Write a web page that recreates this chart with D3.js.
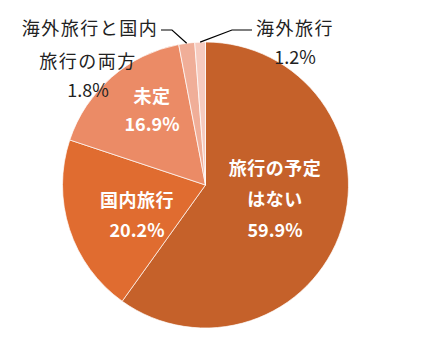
<!DOCTYPE html>
<html>
<head>
<meta charset="utf-8">
<script src="https://cdn.jsdelivr.net/npm/d3@7"></script>
<style>
	body { margin: 0; background: #fff; }
	text { font-family: "Noto Sans CJK JP", sans-serif; }
</style>
</head>
<body>
<svg id="chart" width="444" height="341"></svg>
<script>
var categories = ['旅行の予定はない', '国内旅行', '未定', '海外旅行と国内旅行の両方', '海外旅行'];
var values = [59.9, 20.2, 16.9, 1.8, 1.2];
var colors = ['#c5612a', '#e06c30', '#eb8b66', '#f0ae98', '#f6cbbf'];

var width = 444, height = 341;
var cx = 205.5, cy = 185, radius = 143;

var svg = d3.select('#chart');
var g = svg.append('g').attr('transform', 'translate(' + cx + ',' + cy + ')');

var pie = d3.pie().sort(null).value(function(d) { return d; });
var arc = d3.arc().innerRadius(0).outerRadius(radius);
var arcs = pie(values);

g.selectAll('path.slice').data(arcs).enter().append('path')
	.attr('class', 'slice')
	.attr('d', arc)
	.attr('fill', function(d, i) { return colors[i]; })
	.attr('stroke', '#fff')
	.attr('stroke-width', 0.7);

// labels inside the big slices
var inner = [
	{ i: 0, lines: ['旅行の予定', 'はない', '59.9%'], x: 275, y: [167, 198, 229] },
	{ i: 1, lines: ['国内旅行', '20.2%'], x: 137, y: [199, 229] },
	{ i: 2, lines: ['未定', '16.9%'], x: 152, y: [95, 123] }
];
inner.forEach(function(l) {
	l.lines.forEach(function(t, k) {
		var pct = /%/.test(t);
		svg.append('text')
			.attr('x', l.x).attr('y', l.y[k])
			.attr('text-anchor', 'middle')
			.attr('dominant-baseline', 'central')
			.attr('fill', '#fff')
			.attr('font-weight', 'bold')
			.style('font-size', '18px')
			.style('letter-spacing', pct ? '0px' : '0.5px')
			.text(t);
	});
});

// outside labels with leader lines
function outText(t, x, y) {
	var pct = /%/.test(t);
	svg.append('text')
		.attr('x', x).attr('y', y)
		.attr('text-anchor', 'middle')
		.attr('dominant-baseline', 'central')
		.attr('fill', '#222')
		.style('font-size', '18px')
		.style('letter-spacing', pct ? '0px' : '1.5px')
		.text(t);
}
outText('海外旅行と国内', 90, 27);
outText('旅行の両方', 88, 60);
outText(values[3] + '%', 88, 89);
outText('海外旅行', 295, 27);
outText(values[4] + '%', 295, 56);

function edgePoint(d) {
	var a = (d.startAngle + d.endAngle) / 2;
	return [cx + radius * Math.sin(a), cy - radius * Math.cos(a)];
}
var p3 = edgePoint(arcs[3]), p4 = edgePoint(arcs[4]);
svg.append('path')
	.attr('d', d3.line()([[161, 30], [172, 30], [p3[0], p3[1]]]))
	.attr('fill', 'none').attr('stroke', '#000').attr('stroke-width', 1.2);
svg.append('path')
	.attr('d', d3.line()([[252, 30], [232, 30], [p4[0], p4[1]]]))
	.attr('fill', 'none').attr('stroke', '#000').attr('stroke-width', 1.2);
</script>
</body>
</html>
